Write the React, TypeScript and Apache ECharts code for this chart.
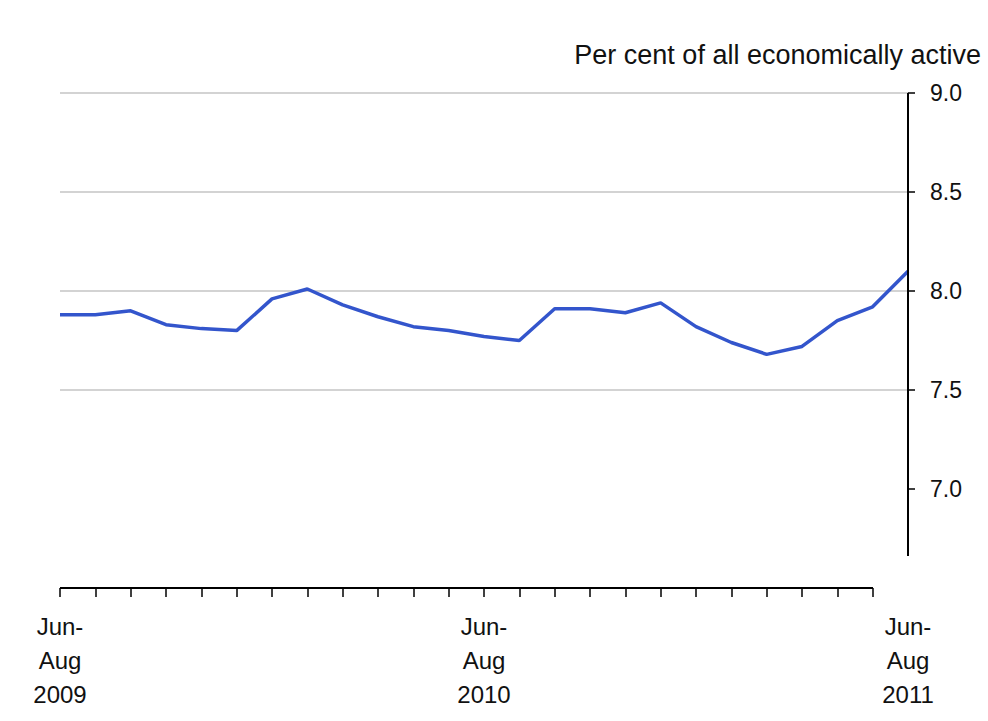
import React, { useEffect, useRef } from "react";
import * as echarts from "echarts";

const periods = [
  "Jun-Aug 2009", "Jul-Sep 2009", "Aug-Oct 2009", "Sep-Nov 2009", "Oct-Dec 2009",
  "Nov-Jan 2010", "Dec-Feb 2010", "Jan-Mar 2010", "Feb-Apr 2010", "Mar-May 2010",
  "Apr-Jun 2010", "May-Jul 2010", "Jun-Aug 2010", "Jul-Sep 2010", "Aug-Oct 2010",
  "Sep-Nov 2010", "Oct-Dec 2010", "Nov-Jan 2011", "Dec-Feb 2011", "Jan-Mar 2011",
  "Feb-Apr 2011", "Mar-May 2011", "Apr-Jun 2011", "May-Jul 2011", "Jun-Aug 2011",
];

const unemploymentRate = [
  7.88, 7.88, 7.90, 7.83, 7.81, 7.80, 7.96, 8.01, 7.93, 7.87, 7.82, 7.80, 7.77,
  7.75, 7.91, 7.91, 7.89, 7.94, 7.82, 7.74, 7.68, 7.72, 7.85, 7.92, 8.10,
];

const yTicks = [7.0, 7.5, 8.0, 8.5, 9.0];
const axisTitle = "Per cent of all economically active";

export default function App() {
  const ref = useRef<HTMLDivElement>(null);

  useEffect(() => {
    if (!ref.current) return;
    const chart = echarts.init(ref.current, null, { renderer: "svg" });
    const font = "'Liberation Sans', Arial, sans-serif";
    chart.setOption({
      animation: false,
      backgroundColor: "#ffffff",
      grid: { left: 60, right: 80, top: 93, bottom: 133, containLabel: false },
      xAxis: {
        type: "category",
        data: periods,
        boundaryGap: false,
        axisLine: { show: false },
        axisTick: {
          show: true,
          length: 9,
          interval: (i: number) => i < periods.length - 1,
          lineStyle: { color: "#000", width: 1.5 },
        },
        axisLabel: {
          interval: (i: number) => i % 12 === 0,
          margin: 21,
          fontFamily: font,
          fontSize: 24,
          lineHeight: 34,
          color: "#111",
          formatter: (v: string) => {
            const [range, year] = v.split(" ");
            const [a, b] = range.split("-");
            return `${a}-\n${b}\n${year}`;
          },
        },
        splitLine: { show: false },
      },
      yAxis: {
        type: "value",
        position: "right",
        min: 6.5,
        max: 9.0,
        interval: 0.5,
        axisLine: { show: false },
        axisTick: {
          show: true,
          length: 7,
          customValues: yTicks,
          lineStyle: { color: "#000", width: 1.5 },
        },
        axisLabel: {
          customValues: yTicks,
          margin: 22,
          fontFamily: font,
          fontSize: 23,
          color: "#111",
          formatter: (v: number) => v.toFixed(1),
        },
        splitLine: {
          show: true,
          showMinLine: false,
          lineStyle: { color: "#c4c4c4", width: 1.5 },
        },
      },
      series: [
        {
          type: "line",
          data: unemploymentRate,
          symbol: "none",
          lineStyle: { color: "#3355cc", width: 3.5 },
          itemStyle: { color: "#3355cc" },
        },
      ],
      graphic: [
        {
          type: "line",
          shape: { x1: 60, y1: 588, x2: 873, y2: 588 },
          style: { stroke: "#000", lineWidth: 2 },
          z: 10,
        },
        {
          type: "line",
          shape: { x1: 908, y1: 93, x2: 908, y2: 556 },
          style: { stroke: "#000", lineWidth: 2 },
          z: 10,
        },
        {
          type: "text",
          x: 981,
          y: 55,
          style: {
            text: axisTitle,
            font: `27px ${font}`,
            fill: "#111",
            textAlign: "right",
            textVerticalAlign: "middle",
          },
        },
      ],
    });
    return () => chart.dispose();
  }, []);

  return (
    <div
      ref={ref}
      style={{ position: "fixed", left: 0, top: 0, width: 988, height: 721 }}
    />
  );
}
